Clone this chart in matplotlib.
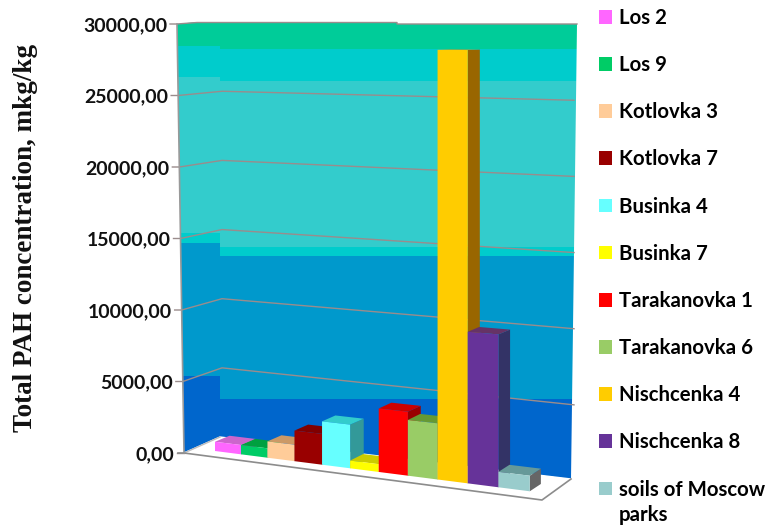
#3D style column chart of total PAH concentration
import numpy as np
import matplotlib
matplotlib.use('Agg')
import matplotlib.pyplot as plt
from matplotlib.patches import Polygon, Rectangle
from matplotlib.transforms import Transform, ScaledTranslation

sites = ['Los 2', 'Los 9', 'Kotlovka 3', 'Kotlovka 7', 'Businka 4', 'Businka 7',
         'Tarakanovka 1', 'Tarakanovka 6', 'Nischcenka 4', 'Nischcenka 8',
         'soils of Moscow']
pah = [650, 650, 1130, 2100, 2950, 520, 4250, 3700, 28300, 9900, 1000]
front_colors = ['#FF66FF', '#00CC66', '#FFCC99', '#990000', '#66FFFF', '#FFFF00',
                '#FF0000', '#99CC66', '#FFCC00', '#663399', '#99CCCC']
top_colors = ['#CC66CC', '#00A040', '#CC9966', '#800000', '#33CCCC', '#CCCC00',
              '#CC0000', '#669933', '#CC9900', '#663366', '#669999']
side_colors = ['#993399', '#006633', '#996633', '#660000', '#339999', '#999900',
               '#990000', '#4D7326', '#996600', '#333366', '#666666']
yticks = [0, 5000, 10000, 15000, 20000, 25000, 30000]
ytick_labels = ['0,00', '5000,00', '10000,00', '15000,00', '20000,00', '25000,00', '30000,00']

#Wall colour bands, top to bottom, with their lower edges in pixels
band_colors = ['#00CC99', '#00CCCC', '#33CCCC', '#00CCCC', '#0099CC', '#0066CC']
band_left = [46, 77, 233, 243, 376, 470]
band_back = [49, 81, 247, 256, 399, 490]

W, H = 770, 528
AX_L, AX_R, AX_T, AX_B = 177, 577, 24, 453
PX = 30000 / (AX_B - AX_T)  # data units per pixel
BAR_PX = 28.45
BAR_X0 = 215

fig = plt.figure(figsize=(W / 100, H / 100), dpi=100, facecolor='white')

#Background axes in pixels for walls and floor
bg = fig.add_axes([0, 0, 1, 1], zorder=0)
bg.set_xlim(0, W)
bg.set_ylim(H, 0)
bg.axis('off')

wall = Polygon([(177, 24), (197, 22), (397, 22), (397, 24), (577, 24), (571, 479),
                (220, 437), (184, 453)], closed=True, fc='none', ec='none')
bg.add_patch(wall)
prev_l, prev_b = 24 - 4, 24 - 4
for c, l, b in zip(band_colors, band_left, band_back):
    r1 = Rectangle((170, prev_l), 50, l - prev_l, fc=c, ec='none')
    r2 = Rectangle((220, prev_b), 365, b - prev_b, fc=c, ec='none')
    bg.add_patch(r1)
    bg.add_patch(r2)
    r1.set_clip_path(wall)
    r2.set_clip_path(wall)
    prev_l, prev_b = l, b

grid_c = '#9A8C8C'
for v in yticks:
    xl = 184 - 7 * v / 30000
    yl = 453 - 14.3 * v / 1000
    yc = 437 - 13.83 * v / 1000
    yr = 481 - 15.23 * v / 1000
    if v == 0:
        bg.plot([xl - 7, xl], [yl, yl], color=grid_c, lw=1)
    elif v == 30000:
        bg.plot([xl - 7, xl, 197, 397, 397, 577], [yl, yl, 22.5, 22.5, 24, 24], color=grid_c, lw=1)
    else:
        bg.plot([xl - 7, xl, 222, 574], [yl, yl, yc, yr], color=grid_c, lw=1)

bg.plot([177, 184], [24, 453], color='#999999', lw=1.2)
bg.fill([184, 220, 571, 542], [453, 437, 479, 500], color='white', zorder=3)
bg.plot([184, 220], [453, 437], color='#BBBBBB', lw=1, zorder=4)
bg.plot([178, 184, 542, 571], [453, 453, 500, 479], color='#8C8C8C', lw=1.2, zorder=4)

#Real axes for the bars and the value scale
ax = fig.add_axes([AX_L / W, 1 - AX_B / H, (AX_R - AX_L) / W, (AX_B - AX_T) / H], zorder=1)
ax.patch.set_visible(False)
for s in ax.spines.values():
    s.set_visible(False)
ax.set_xlim((AX_L - BAR_X0) / BAR_PX - 0.5, (AX_R - BAR_X0) / BAR_PX - 0.5)
ax.set_ylim(0, 30000)


class Tilt(Transform):
    #floor runs downhill to the right and bars widen towards the viewer,
    #the tilt fades out towards the top
    input_dims = 2
    output_dims = 2

    def transform_non_affine(self, xy):
        xy = np.asarray(xy, dtype=float)
        t = xy[:, 0] + 0.5
        v = xy[:, 1]
        px = 25.7 * t + 0.265 * t ** 2
        shift = -PX * (-2 + 0.128 * px)
        return np.column_stack([px / BAR_PX - 0.5, v + (1 - v / 30000) * shift])


trans = Tilt() + ax.transData

for i, (name, v) in enumerate(zip(sites, pah)):
    dx = (16 - 0.6 * i) / BAR_PX
    dy = 8 * PX * (1 - v / 30000)
    dy0 = 8 * PX
    x0, x1 = i - 0.5, i + 0.5
    ax.fill([x1, x1 + dx, x1 + dx, x1], [0, dy0, v + dy, v], color=side_colors[i],
            transform=trans, clip_on=False, zorder=2 + i, lw=0)
    ax.fill([x0, x0 + dx, x1 + dx, x1], [v, v + dy, v + dy, v], color=top_colors[i],
            transform=trans, clip_on=False, zorder=2 + i, lw=0)
    ax.bar(i, v, width=1, color=front_colors[i], label=name, transform=trans,
           clip_on=False, zorder=2 + i)

ax.set_xticks([])
ax.set_yticks(yticks)
ax.set_yticklabels(ytick_labels, family='Lato', fontweight='bold', fontsize=14, color='#111111')
ax.tick_params(axis='y', length=0, pad=7)
for lab, v in zip(ax.get_yticklabels(), yticks):
    #labels follow the slanted left wall
    lab.set_transform(lab.get_transform() + ScaledTranslation(7 * (1 - v / 30000) / 100, 0, fig.dpi_scale_trans))

fig.text(26 / W, 1 - 238 / H, 'Total PAH concentration, mkg/kg', rotation=90, ha='center', va='center',
         family='Liberation Serif', fontweight='bold', fontsize=19.5, color='#111111')

ax.legend(loc='upper left', bbox_to_anchor=(599 / W, 1 - 8 / H), bbox_transform=fig.transFigure,
          frameon=False, prop={'family': 'Lato', 'weight': 'bold', 'size': 14.7},
          handlelength=0.65, handleheight=0.65, handletextpad=0.34, labelspacing=1.33,
          borderpad=0, borderaxespad=0)
fig.text(619 / W, 1 - 515 / H, 'parks', ha='left', va='center',
         family='Lato', fontweight='bold', fontsize=14.7, color='black')

fig.savefig('out.png', dpi=100)
